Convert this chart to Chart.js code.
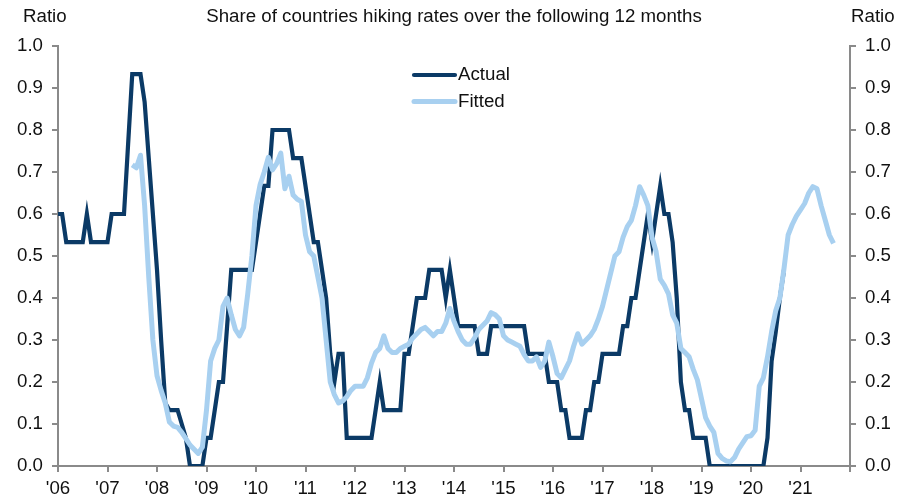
<!DOCTYPE html>
<html>
<head>
<meta charset="utf-8">
<title>Share of countries hiking rates</title>
<script src="https://cdn.jsdelivr.net/npm/chart.js@4/dist/chart.umd.min.js"></script>
<style>
    html, body { margin: 0; padding: 0; background: #fff; }
    #wrap { width: 913px; height: 498px; position: relative; }
</style>
</head>
<body>
<div id="wrap"><canvas id="hikeChart"></canvas></div>
<script>
// ============================================
// DATA - monthly values
// ============================================
const firstYear = 2006;          // x axis starts here
const lastYear = 2022;           // x axis ends here
const yearLabels = ["'06", "'07", "'08", "'09", "'10", "'11", "'12", "'13",
                    "'14", "'15", "'16", "'17", "'18", "'19", "'20", "'21", ""];
const ratioTicks = [0.0, 0.1, 0.2, 0.3, 0.4, 0.5, 0.6, 0.7, 0.8, 0.9, 1.0];

// actual share, one value per month from Jan 2006
const actualStartMonth = 0;
const actualValues = [
    0.6, 0.6, 0.533, 0.533, 0.533, 0.533, 0.533, 0.6, 0.533, 0.533, 0.533, 0.533,       // 2006
    0.533, 0.6, 0.6, 0.6, 0.6, 0.767, 0.933, 0.933, 0.933, 0.867, 0.733, 0.6,            // 2007
    0.467, 0.3, 0.15, 0.133, 0.133, 0.133, 0.1, 0.067, 0, 0, 0, 0,                      // 2008
    0.067, 0.067, 0.133, 0.2, 0.2, 0.333, 0.467, 0.467, 0.467, 0.467, 0.467, 0.467,     // 2009
    0.533, 0.6, 0.667, 0.667, 0.8, 0.8, 0.8, 0.8, 0.8, 0.733, 0.733, 0.733,             // 2010
    0.667, 0.6, 0.533, 0.533, 0.467, 0.4, 0.267, 0.2, 0.267, 0.267, 0.067, 0.067,       // 2011
    0.067, 0.067, 0.067, 0.067, 0.067, 0.133, 0.2, 0.133, 0.133, 0.133, 0.133, 0.133,   // 2012
    0.267, 0.267, 0.333, 0.4, 0.4, 0.4, 0.467, 0.467, 0.467, 0.467, 0.4, 0.467,         // 2013
    0.4, 0.333, 0.333, 0.333, 0.333, 0.333, 0.267, 0.267, 0.267, 0.333, 0.333, 0.333,   // 2014
    0.333, 0.333, 0.333, 0.333, 0.333, 0.333, 0.267, 0.267, 0.267, 0.267, 0.267, 0.2,   // 2015
    0.2, 0.2, 0.133, 0.133, 0.067, 0.067, 0.067, 0.067, 0.133, 0.133, 0.2, 0.2,         // 2016
    0.267, 0.267, 0.267, 0.267, 0.267, 0.333, 0.333, 0.4, 0.4, 0.467, 0.533, 0.6,       // 2017
    0.533, 0.6, 0.667, 0.6, 0.6, 0.533, 0.4, 0.2, 0.133, 0.133, 0.067, 0.067,           // 2018
    0.067, 0.067, 0, 0, 0, 0, 0, 0, 0, 0, 0, 0,                                         // 2019
    0, 0, 0, 0, 0.067, 0.25, 0.32, 0.4, 0.467                                           // 2020
];

// fitted share, one value per month from Jul 2007
const fittedStartMonth = 18;
const fittedValues = [
    0.717, 0.71, 0.74, 0.62, 0.45, 0.30,                                                // 2007 H2
    0.215, 0.18, 0.15, 0.105, 0.095, 0.092, 0.08, 0.065, 0.05, 0.04, 0.03, 0.045,       // 2008
    0.133, 0.25, 0.28, 0.30, 0.38, 0.40, 0.36, 0.325, 0.31, 0.33, 0.41, 0.50,           // 2009
    0.62, 0.67, 0.70, 0.735, 0.705, 0.72, 0.745, 0.66, 0.69, 0.645, 0.635, 0.63,        // 2010
    0.55, 0.51, 0.50, 0.45, 0.40, 0.30, 0.20, 0.17, 0.15, 0.155, 0.165, 0.18,           // 2011
    0.19, 0.19, 0.19, 0.21, 0.245, 0.27, 0.28, 0.31, 0.28, 0.27, 0.27, 0.28,            // 2012
    0.285, 0.29, 0.305, 0.315, 0.325, 0.33, 0.32, 0.31, 0.32, 0.32, 0.34, 0.375,        // 2013
    0.345, 0.32, 0.30, 0.29, 0.29, 0.305, 0.325, 0.335, 0.345, 0.365, 0.36, 0.35,       // 2014
    0.31, 0.30, 0.295, 0.29, 0.285, 0.265, 0.25, 0.25, 0.26, 0.235, 0.25, 0.295,        // 2015
    0.26, 0.22, 0.21, 0.23, 0.25, 0.285, 0.315, 0.29, 0.30, 0.31, 0.325, 0.35,          // 2016
    0.38, 0.42, 0.46, 0.50, 0.51, 0.545, 0.57, 0.585, 0.62, 0.665, 0.645, 0.62,         // 2017
    0.545, 0.51, 0.445, 0.43, 0.41, 0.36, 0.34, 0.28, 0.27, 0.26, 0.23, 0.205,          // 2018
    0.16, 0.115, 0.095, 0.08, 0.03, 0.018, 0.012, 0.01, 0.02, 0.04, 0.055, 0.07,        // 2019
    0.072, 0.085, 0.19, 0.21, 0.26, 0.32, 0.37, 0.40, 0.47, 0.55, 0.575, 0.595,         // 2020
    0.61, 0.625, 0.65, 0.665, 0.66, 0.62, 0.585, 0.55, 0.53                             // 2021
];

// ============================================
// STYLE
// ============================================
const darkBlue = '#0b3a66';
const lightBlue = '#a8d0f0';
const axisGrey = '#8a8a8a';
const textColor = '#111111';
const fontFamily = '"Liberation Sans", Arial, sans-serif';
const fontSize = 18.7;

// turning the monthly lists into {x, y} points for a linear year axis
function toPoints(values, startMonth) {
    return values.map((v, i) => ({ x: firstYear + (startMonth + i) / 12, y: v }));
}

// ============================================
// TEXT PLUGIN - title, axis headers and legend
// ============================================
const chartText = {
    id: 'chartText',
    afterDraw(chart) {
        const ctx = chart.ctx;
        const area = chart.chartArea;
        ctx.save();
        ctx.font = `${fontSize}px ${fontFamily}`;
        ctx.fillStyle = textColor;
        ctx.textBaseline = 'middle';

        // title across the top
        ctx.textAlign = 'center';
        ctx.fillText('Share of countries hiking rates over the following 12 months',
                     (area.left + area.right) / 2, 17);

        // "Ratio" over both axes
        ctx.textAlign = 'left';
        ctx.fillText('Ratio', 23, 17);
        ctx.fillText('Ratio', area.right + 1, 17);

        // legend inside the plot
        const legendItems = [
            { label: 'Actual', color: darkBlue, width: 4.2, y: 75 },
            { label: 'Fitted', color: lightBlue, width: 5, y: 101.5 }
        ];
        legendItems.forEach(item => {
            ctx.strokeStyle = item.color;
            ctx.lineWidth = item.width;
            ctx.lineCap = 'round';
            ctx.beginPath();
            ctx.moveTo(414, item.y);
            ctx.lineTo(455, item.y);
            ctx.stroke();
            ctx.fillText(item.label, 458, item.y);
        });
        ctx.restore();
    }
};

// ============================================
// CHART
// ============================================
const yScale = (position, width) => ({
    type: 'linear',
    position: position,
    min: 0,
    max: 1,
    afterFit(scale) { scale.width = width; },
    afterBuildTicks(scale) { scale.ticks = ratioTicks.map(v => ({ value: v })); },
    ticks: {
        padding: 9,
        color: textColor,
        font: { family: fontFamily, size: fontSize },
        callback: v => Number(v).toFixed(1)
    },
    grid: {
        drawOnChartArea: false,
        drawTicks: true,
        tickLength: 6,
        color: axisGrey,
        lineWidth: 2
    },
    border: { display: true, color: axisGrey, width: 2 }
});

const ctx = document.getElementById('hikeChart').getContext('2d');
new Chart(ctx, {
    type: 'line',
    data: {
        datasets: [
            {
                label: 'Fitted',
                data: toPoints(fittedValues, fittedStartMonth),
                borderColor: lightBlue,
                borderWidth: 5,
                pointRadius: 0,
                tension: 0,
                borderJoinStyle: 'round',
                order: 0
            },
            {
                label: 'Actual',
                data: toPoints(actualValues, actualStartMonth),
                borderColor: darkBlue,
                borderWidth: 4.2,
                pointRadius: 0,
                tension: 0,
                borderJoinStyle: 'miter',
                order: 1
            }
        ]
    },
    options: {
        responsive: true,
        maintainAspectRatio: false,
        animation: false,
        layout: { padding: { top: 46, left: 0, right: 0, bottom: 0 } },
        plugins: {
            legend: { display: false },
            tooltip: { enabled: false }
        },
        scales: {
            x: {
                type: 'linear',
                min: firstYear,
                max: lastYear,
                afterFit(scale) { scale.height = 32; },
                ticks: {
                    stepSize: 1,
                    autoSkip: false,
                    maxRotation: 0,
                    padding: 6,
                    color: textColor,
                    font: { family: fontFamily, size: fontSize },
                    callback: v => yearLabels[Math.round(v - firstYear)]
                },
                grid: {
                    drawOnChartArea: false,
                    drawTicks: true,
                    tickLength: 6,
                    color: axisGrey,
                    lineWidth: 2
                },
                border: { display: true, color: axisGrey, width: 2 }
            },
            y: yScale('left', 58),
            y2: yScale('right', 63)
        }
    },
    plugins: [chartText]
});
</script>
</body>
</html>
